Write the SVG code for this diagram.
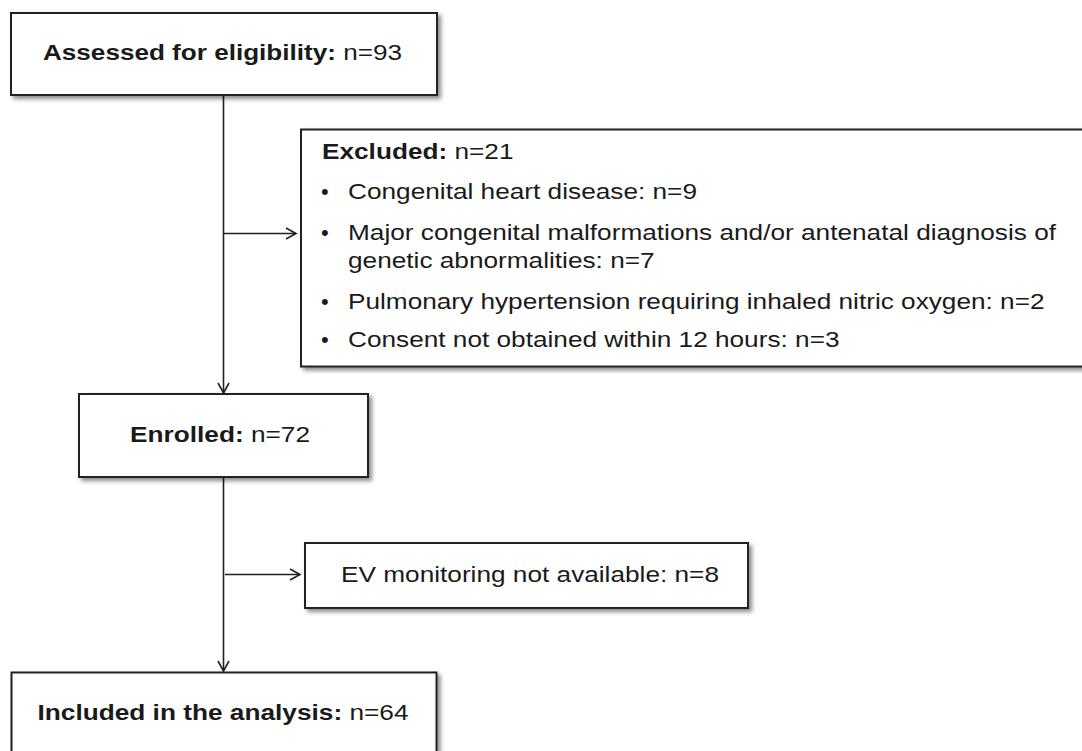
<svg xmlns="http://www.w3.org/2000/svg" width="1082" height="751" viewBox="0 0 1082 751">
  <defs>
    <filter id="shadow" x="-5%" y="-5%" width="115%" height="120%">
      <feDropShadow dx="3" dy="3" stdDeviation="2" flood-color="#000" flood-opacity="0.45"/>
    </filter>
    <marker id="arrow" markerUnits="userSpaceOnUse" markerWidth="14" markerHeight="14" viewBox="-12 -7 14 14" refX="0" refY="0" orient="auto">
      <path d="M-10,-5.5 L0,0 L-10,5.5" fill="none" stroke="#222" stroke-width="1.6"/>
    </marker>
    <style>
      .box { fill: #fff; stroke: #222; stroke-width: 2; filter: url(#shadow); }
      .conn { stroke: #222; stroke-width: 1.6; fill: none; marker-end: url(#arrow); }
      text { font-family: "Liberation Sans", Arial, Helvetica, sans-serif; font-size: 22px; fill: #1a1a1a; }
      .b { font-weight: bold; }
    </style>
  </defs>
  <rect x="0" y="0" width="1082" height="751" fill="#fff"/>

  <g id="connectors">
    <line class="conn" x1="223.5" y1="96" x2="223.5" y2="393"/>
    <line class="conn" x1="223.5" y1="233.5" x2="296" y2="233.5"/>
    <line class="conn" x1="223.5" y1="478" x2="223.5" y2="671"/>
    <line class="conn" x1="225" y1="574.5" x2="300" y2="574.5"/>
  </g>

  <g id="node-assessed">
    <rect class="box" x="11" y="13" width="426" height="82"/>
    <text x="43" y="60" textLength="359" lengthAdjust="spacingAndGlyphs"><tspan class="b">Assessed for eligibility:</tspan> n=93</text>
  </g>

  <g id="node-excluded">
    <rect class="box" x="301" y="129.5" width="800" height="237"/>
    <text x="322" y="159" textLength="191.5" lengthAdjust="spacingAndGlyphs"><tspan class="b">Excluded:</tspan> n=21</text>
    <text x="321" y="199">•</text>
    <text x="348" y="199" textLength="349" lengthAdjust="spacingAndGlyphs">Congenital heart disease: n=9</text>
    <text x="321" y="240">•</text>
    <text x="348" y="240" textLength="708" lengthAdjust="spacingAndGlyphs">Major congenital malformations and/or antenatal diagnosis of</text>
    <text x="348" y="268" textLength="306.6" lengthAdjust="spacingAndGlyphs">genetic abnormalities: n=7</text>
    <text x="321" y="309">•</text>
    <text x="348" y="309" textLength="696.5" lengthAdjust="spacingAndGlyphs">Pulmonary hypertension requiring inhaled nitric oxygen: n=2</text>
    <text x="321" y="347">•</text>
    <text x="348" y="347" textLength="491.5" lengthAdjust="spacingAndGlyphs">Consent not obtained within 12 hours: n=3</text>
  </g>

  <g id="node-enrolled">
    <rect class="box" x="79" y="394" width="289" height="83"/>
    <text x="130" y="442" textLength="180" lengthAdjust="spacingAndGlyphs"><tspan class="b">Enrolled:</tspan> n=72</text>
  </g>

  <g id="node-ev">
    <rect class="box" x="305" y="543" width="443" height="65"/>
    <text x="341" y="582" textLength="378" lengthAdjust="spacingAndGlyphs">EV monitoring not available: n=8</text>
  </g>

  <g id="node-included">
    <rect class="box" x="11.5" y="672.5" width="425" height="100"/>
    <text x="37.5" y="719.5" textLength="371" lengthAdjust="spacingAndGlyphs"><tspan class="b">Included in the analysis:</tspan> n=64</text>
  </g>
</svg>
